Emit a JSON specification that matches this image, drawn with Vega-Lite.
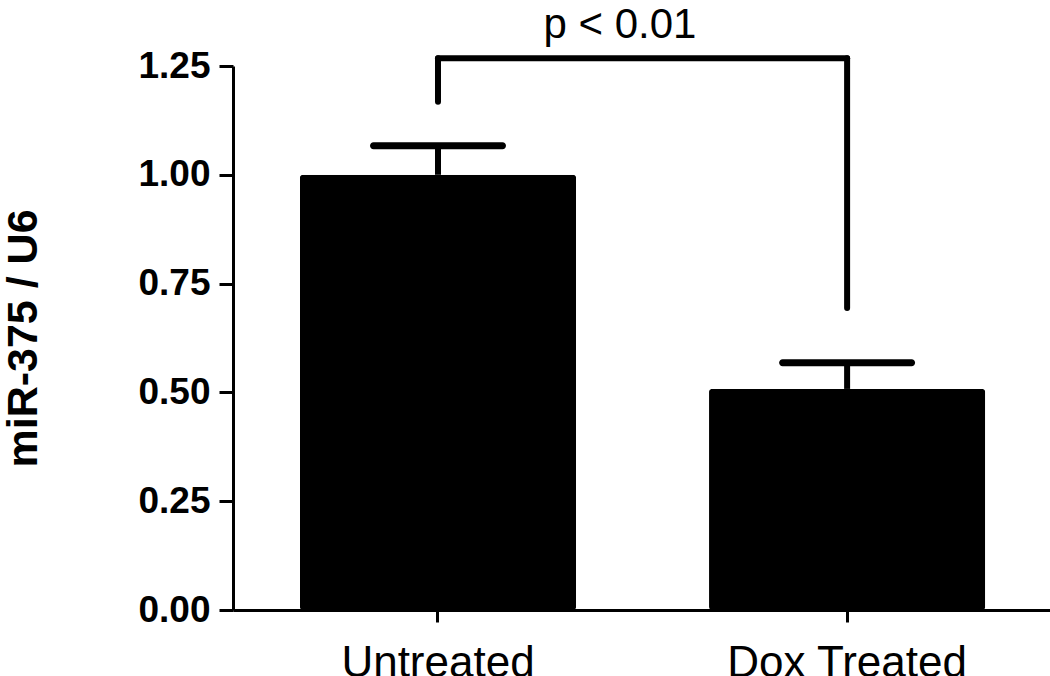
{
  "$schema": "https://vega.github.io/schema/vega-lite/v6.json",
  "width": 817,
  "height": 544,
  "autosize": "none",
  "padding": {"left": 233, "top": 66, "right": 0, "bottom": 66},
  "background": "white",
  "config": {
    "view": {"stroke": null},
    "font": "Liberation Sans",
    "axis": {"grid": false, "domainColor": "black", "tickColor": "black", "labelColor": "black", "titleColor": "black", "domainWidth": 3, "tickWidth": 3}
  },
  "layer": [
    {
      "data": {"values": [
        {"group": "Untreated", "mean": 1.0, "upper": 1.067},
        {"group": "Dox Treated", "mean": 0.508, "upper": 0.568}
      ]},
      "layer": [
        {
          "mark": {"type": "rule", "strokeWidth": 6, "color": "black"},
          "encoding": {
            "x": {"field": "group", "type": "nominal"},
            "y": {"field": "mean", "type": "quantitative"},
            "y2": {"field": "upper"}
          }
        },
        {
          "mark": {"type": "tick", "orient": "horizontal", "size": 136, "thickness": 7, "cornerRadius": 3.5, "color": "black", "opacity": 1},
          "encoding": {
            "x": {"field": "group", "type": "nominal"},
            "y": {"field": "upper", "type": "quantitative"}
          }
        },
        {
          "mark": {"type": "bar", "color": "black", "cornerRadius": 3},
          "encoding": {
            "x": {
              "field": "group", "type": "nominal", "sort": ["Untreated", "Dox Treated"],
              "scale": {"domain": ["Untreated", "Dox Treated"], "paddingInner": 0.325, "paddingOuter": 0.161, "align": 0.508},
              "axis": {"title": null, "labelAngle": 0, "labelAlign": "center", "labelBaseline": "top", "labelFontSize": 44, "labelPadding": 19, "labelLimit": 0, "tickSize": 12, "labelFontWeight": "normal"}
            },
            "y": {
              "field": "mean", "type": "quantitative",
              "scale": {"domain": [0, 1.25], "nice": false, "zero": true},
              "axis": {"title": "miR-375 / U6", "values": [0, 0.25, 0.5, 0.75, 1.0, 1.25], "format": ".2f", "labelFontSize": 37, "labelFontWeight": "bold", "labelPadding": 9, "tickSize": 14, "titleFontSize": 43, "titleFontWeight": "bold", "titlePadding": 92}
            }
          }
        }
      ]
    },
    {
      "data": {"values": [
        {"group": "Untreated", "y": 1.168, "y2": 1.268},
        {"group": "Dox Treated", "y": 0.694, "y2": 1.268}
      ]},
      "mark": {"type": "rule", "strokeWidth": 6, "color": "black", "strokeCap": "round"},
      "encoding": {
        "x": {"field": "group", "type": "nominal"},
        "y": {"field": "y", "type": "quantitative"},
        "y2": {"field": "y2"}
      }
    },
    {
      "data": {"values": [
        {"from": "Untreated", "to": "Dox Treated", "y": 1.268, "label": "p < 0.01"}
      ]},
      "layer": [
        {
          "mark": {"type": "rule", "strokeWidth": 6, "color": "black", "strokeCap": "round"},
          "encoding": {
            "x": {"field": "from", "type": "nominal"},
            "x2": {"field": "to"},
            "y": {"field": "y", "type": "quantitative"}
          }
        },
        {
          "mark": {"type": "text", "fontSize": 42, "color": "black", "dx": 182, "dy": -11, "baseline": "bottom"},
          "encoding": {
            "x": {"field": "from", "type": "nominal"},
            "y": {"field": "y", "type": "quantitative"},
            "text": {"field": "label"}
          }
        }
      ]
    }
  ]
}
